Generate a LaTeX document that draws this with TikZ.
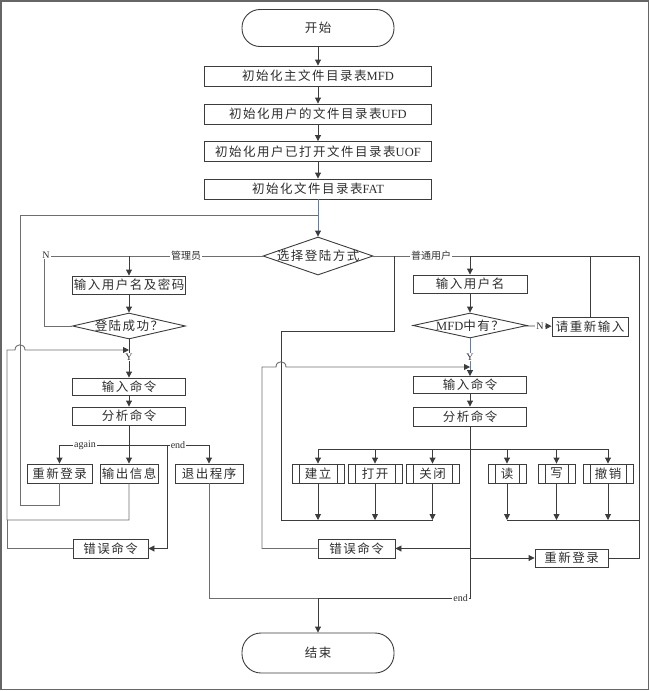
\documentclass[tikz,border=0pt]{standalone}
\usepackage{fontspec}
\setmainfont{Liberation Serif}
\newfontfamily\cjk[LetterSpace=12]{Noto Sans CJK SC}
\newfontfamily\cjks{Noto Sans CJK SC}
\usetikzlibrary{shapes.geometric,arrows.meta}
\definecolor{lnc}{HTML}{3C3C3C}
\definecolor{lgc}{HTML}{6E6E6E}
\definecolor{blc}{HTML}{5B7FB0}
\definecolor{txc}{HTML}{2E2E2E}
\newcommand{\zb}[1]{\makebox[0pt]{\raisebox{-0.38em}[0pt][0pt]{#1}}}
\tikzset{
  box/.style={draw=lnc, line width=0.9pt, rectangle, inner sep=0pt, minimum height=19pt, text=txc,
    font=\fontsize{12.5}{14}\selectfont\cjk},
  term/.style={draw=lnc, line width=0.9pt, rectangle, rounded corners=18pt, minimum width=152pt,
    minimum height=37pt, inner sep=0pt, text=txc, font=\fontsize{12.5}{14}\selectfont\cjk},
  dia/.style={draw=lnc, line width=0.9pt, diamond, inner sep=0pt, text=txc,
    font=\fontsize{12.5}{14}\selectfont\cjk},
  proc/.style={box, minimum height=19pt, path picture={
    \draw[lnc, line width=0.9pt] ([xshift=7pt]path picture bounding box.north west) -- ([xshift=7pt]path picture bounding box.south west)
      ([xshift=-7pt]path picture bounding box.north east) -- ([xshift=-7pt]path picture bounding box.south east);}},
  ar/.style={draw=lnc, line width=0.9pt, -{Triangle[length=6pt,width=6pt]}},
  wire/.style={draw=lnc, line width=0.9pt},
  wireg/.style={draw=lgc, line width=0.9pt},
  lab/.style={fill=white, inner sep=1pt, text=txc, font=\fontsize{10}{11}\selectfont},
  frame/.style={draw=gray!80!black, line width=1.6pt}
}
\begin{document}
\begin{tikzpicture}[x=1pt,y=-1pt]
\useasboundingbox (0,0) rectangle (650,691);
\draw[frame] (1,1) rectangle (648.5,689.5);

% top flow
\node[term] (start) at (318,28) {开始};
\node[box, minimum width=227pt, minimum height=20pt] (i1) at (318,76) {初始化主文件目录表{\rmfamily MFD}};
\node[box, minimum width=227pt, minimum height=20pt] (i2) at (318,114) {初始化用户的文件目录表{\rmfamily UFD}};
\node[box, minimum width=227pt, minimum height=20pt] (i3) at (318,151.5) {初始化用户已打开文件目录表{\rmfamily UOF}};
\node[box, minimum width=227pt, minimum height=20pt] (i4) at (318,189) {初始化文件目录表{\rmfamily FAT}};
\node[dia, minimum width=110pt, minimum height=38pt] (sel) at (318,256) {\zb{选择登陆方式}};

% left column
\node[box, minimum width=113pt, minimum height=18pt] (aIn) at (129,285) {输入用户名及密码};
\node[dia, minimum width=113pt, minimum height=26pt] (aOk) at (129,326) {\zb{登陆成功？}};
\node[box, minimum width=113pt, minimum height=17pt] (aCmd) at (129,386.5) {输入命令};
\node[box, minimum width=113pt, minimum height=18pt] (aAna) at (129,416) {分析命令};
\node[box, minimum width=65pt] (aRe) at (59.5,473.5) {重新登录};
\node[box, minimum width=58pt] (aOut) at (129,473.5) {输出信息};
\node[box, minimum width=68pt] (aExit) at (209,473.5) {退出程序};
\node[box, minimum width=75pt] (aErr) at (110.5,548.5) {错误命令};

% right column
\node[box, minimum width=114pt, minimum height=18pt] (bIn) at (470,284) {输入用户名};
\node[dia, minimum width=114pt, minimum height=25pt] (bOk) at (470,325.5) {\zb{{\rmfamily MFD}中有？}};
\node[box, minimum width=76pt] (bRetry) at (590,326.5) {请重新输入};
\node[box, minimum width=113pt, minimum height=17pt] (bCmd) at (470,385) {输入命令};
\node[box, minimum width=113pt, minimum height=19pt] (bAna) at (470,416.5) {分析命令};
\node[proc, minimum width=52pt] (pJ) at (318,473.5) {建立};
\node[proc, minimum width=54pt] (pD) at (375,473.5) {打开};
\node[proc, minimum width=53pt] (pG) at (432.5,473.5) {关闭};
\node[proc, minimum width=38pt] (pR) at (507,473.5) {读};
\node[proc, minimum width=37pt] (pW) at (556.5,473.5) {写};
\node[proc, minimum width=50pt] (pC) at (608,473.5) {撤销};
\node[box, minimum width=77pt] (bErr) at (356.5,548.5) {错误命令};
\node[box, minimum width=73pt, minimum height=18pt] (bRe) at (571.5,558) {重新登录};

\node[term, minimum height=40pt, rounded corners=19pt] (fin) at (318,653) {结束};

% coordinates
\coordinate (jTop) at (318,215);
\coordinate (c1) at (129,256);
\coordinate (c2) at (44,326);
\coordinate (c3) at (44,256);
\coordinate (c4) at (129,445);
\coordinate (c5) at (59.5,445);
\coordinate (c6) at (209,445);
\coordinate (c7) at (167,445);
\coordinate (c8) at (167,548.5);
\coordinate (l1) at (59.5,505);
\coordinate (l2) at (20,505);
\coordinate (l3) at (20,215);
\coordinate (o1) at (129,520);
\coordinate (o2) at (7,520);
\coordinate (o3) at (7,350);
\coordinate (o4) at (129,350);
\coordinate (e1) at (7,548.5);
\coordinate (m1) at (470,598);
\coordinate (m2) at (318,598);
\coordinate (r0) at (470,256);
\coordinate (r3) at (639,256);
\coordinate (r2) at (639,558);
\coordinate (r1) at (639,520);
\coordinate (hb) at (0,449);
\coordinate (lb) at (0,520);
\coordinate (q1) at (281,520);
\coordinate (q2) at (281,331);
\coordinate (q3) at (394,331);
\coordinate (q4) at (394,256);
\coordinate (k1) at (262,548.5);
\coordinate (k2) at (262,367);
\coordinate (k3) at (470,367);
\coordinate (eR) at (470,548.5);
\coordinate (gR) at (470,558);

% top arrows
\draw[ar] (start) -- (i1);
\draw[ar] (i1) -- (i2);
\draw[ar] (i2) -- (i3);
\draw[ar] (i3) -- (i4);
\draw[draw=blc, line width=0.9pt, -{Triangle[length=6pt,width=6pt,color=lnc]}] (i4) -- (sel);

% admin branch
\draw[wireg] (sel.west) -- (c1);
\node[lab] at (186,256) {\cjks 管理员};
\draw[ar] (c1) -- (aIn);
\draw[wireg] (aOk.west) -- (c2) -- (c3) -- (c1);
\node[lab] at (46,255) {N};
\draw[ar] (aIn) -- (aOk);
\draw[ar] (aOk) -- (aCmd);
\node[lab] at (129,357) {Y};
\draw[ar] (aCmd) -- (aAna);
\draw[wire] (aAna.south) -- (c4);
\draw[ar] (c4) -- (aOut);
\draw[wire] (c5) -- (c6);
\draw[ar] (c5) -- (aRe);
\draw[ar] (c6) -- (aExit);
\node[lab] at (85,445) {again};
\node[lab] at (178,445) {end};
\draw[wire] (c7) -- (c8);
\draw[ar] (c8) -- (aErr);
\draw[wireg] (aRe.south) -- (l1) -- (l2) -- (l3) -- (jTop);
\draw[wireg, -{Triangle[length=6pt,width=6pt,color=lnc]}] (aOut.south) -- (o1) -- (o2) -- (o3) -- (15,350)
  .. controls (15,343) and (25,343) .. (25,350) -- (o4);
\draw[wireg] (aErr.west) -- (e1) -- (o2);
\draw[wireg] (aExit.south) -- (aExit.south |- m2) -- (m2);

% user branch
\draw[wireg] (sel.east) -- (r0);
\node[lab] at (431,256) {\cjks 普通用户};
\draw[ar] (r0) -- (bIn);
\draw[ar] (bIn) -- (bOk);
\draw[ar] (bOk) -- (bRetry);
\node[lab] at (540,326) {N};
\draw[wire] (bRetry.north) -- (bRetry.north |- r3);
\draw[wire] (r0) -- (r3) -- (r2) -- (bRe.east);
\draw[draw=blc, line width=0.9pt, -{Triangle[length=6pt,width=6pt,color=lnc]}] (bOk) -- (bCmd);
\node[lab] at (470,357) {Y};
\draw[ar] (bCmd) -- (bAna);
\draw[wire] (bAna.south) -- (m1) -- (m2);
\node[lab, anchor=east] at (469,598) {end};
\draw[ar] (m2) -- (fin);
\draw[wire] (pJ.north |- hb) -- (pC.north |- hb);
\foreach \p in {pJ,pD,pG,pR,pW,pC}{
  \draw[ar] (\p.north |- hb) -- (\p.north);
  \draw[ar] (\p.south) -- (\p.south |- lb);
}
\draw[wire] (pG.south |- lb) -- (q1) -- (q2) -- (q3) -- (q4);
\draw[wire] (pR.south |- lb) -- (r1);
\draw[ar] (eR) -- (bErr);
\draw[ar] (gR) -- (bRe);
\draw[wireg, -{Triangle[length=6pt,width=6pt,color=lnc]}] (bErr.west) -- (k1) -- (k2) -- (276,367)
  .. controls (276,360) and (286,360) .. (286,367) -- (k3);
\end{tikzpicture}
\end{document}
